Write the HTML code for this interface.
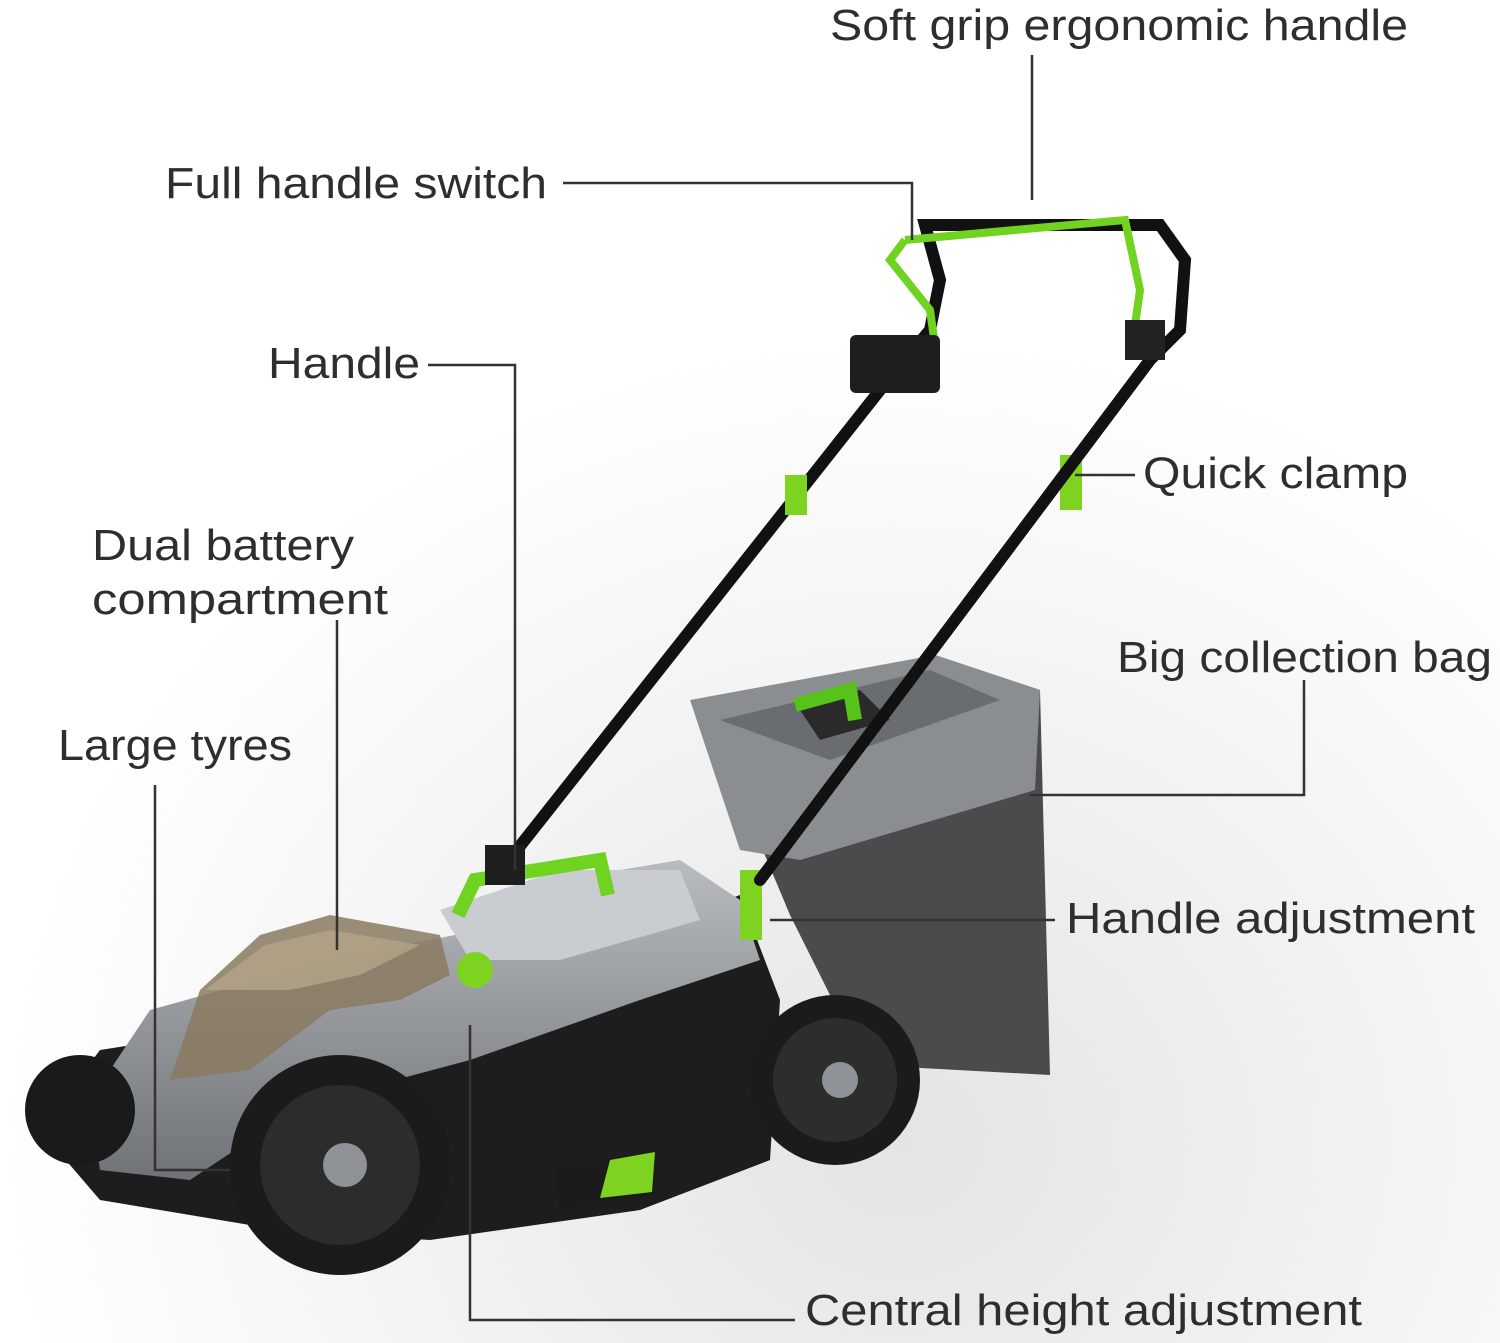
<!DOCTYPE html>
<html><head><meta charset="utf-8"><style>
html,body{margin:0;padding:0;background:#fff;}
body{width:1500px;height:1343px;overflow:hidden;position:relative;font-family:"Liberation Sans",sans-serif;}
svg{position:absolute;left:0;top:0;}
</style></head><body>
<svg width="1500" height="1343" viewBox="0 0 1500 1343" xmlns="http://www.w3.org/2000/svg">
<defs>
<radialGradient id="bg" cx="0.6" cy="0.85" r="0.6">
<stop offset="0" stop-color="#e4e4e4"/><stop offset="1" stop-color="#ffffff"/>
</radialGradient>
<linearGradient id="body" x1="0" y1="0" x2="0" y2="1">
<stop offset="0" stop-color="#b8bcc0"/><stop offset="1" stop-color="#6f7377"/>
</linearGradient>
</defs>
<rect width="1500" height="1343" fill="url(#bg)"/>
<!-- bag -->
<polygon points="700,700 935,655 1040,690 1050,1075 865,1065 790,915" fill="#4a4b4d"/>
<polygon points="690,700 935,655 1040,690 1035,790 800,860 740,850" fill="#8b8e91"/>
<polygon points="720,720 930,670 1000,700 830,760" fill="#6a6d70"/>
<polygon points="800,710 860,690 890,720 820,740" fill="#2a2a2a"/>
<path d="M795,705 L850,690 L855,720" stroke="#56c21a" stroke-width="14" fill="none"/>
<!-- deck black skirt -->
<polygon points="40,1130 100,1050 480,990 740,895 780,1000 770,1160 640,1210 430,1240 280,1230 100,1200" fill="#1d1d1e"/>
<!-- deck body -->
<polygon points="90,1100 150,1010 330,960 455,935 560,880 680,860 740,900 760,960 640,1000 470,1060 320,1100 250,1140 190,1180 100,1170" fill="url(#body)"/>
<polygon points="440,910 560,870 680,870 700,920 560,960 470,960" fill="#c9ccd0"/>
<!-- green marks -->
<polygon points="555,1170 655,1150 655,1195 560,1210" fill="#1b1b1b"/>
<polygon points="610,1160 655,1152 652,1192 600,1198" fill="#7ed321"/>
<path d="M458,915 L475,880 L600,860 L608,895" stroke="#6fd320" stroke-width="14" fill="none"/>
<circle cx="475" cy="970" r="18" fill="#7ed321"/>
<rect x="740" y="870" width="22" height="70" fill="#7ed321"/>
<rect x="1060" y="455" width="22" height="55" fill="#7ed321"/>
<!-- battery cover -->
<polygon points="170,1080 200,990 260,935 330,915 440,935 450,975 400,1000 330,1010 250,1070" fill="#8a7a62" opacity="0.85"/>
<polygon points="205,990 265,945 330,930 420,945 360,975 290,990" fill="#b4a588" opacity="0.8"/>
<!-- wheels -->
<circle cx="80" cy="1110" r="55" fill="#1a1a1a"/>
<circle cx="340" cy="1165" r="110" fill="#1b1b1b"/>
<circle cx="340" cy="1165" r="80" fill="#2c2c2c"/>
<circle cx="345" cy="1165" r="22" fill="#8f9296"/>
<circle cx="835" cy="1080" r="85" fill="#1b1b1b"/>
<circle cx="835" cy="1080" r="62" fill="#2d2d2d"/>
<circle cx="840" cy="1080" r="18" fill="#8f9296"/>
<!-- handles -->
<g stroke="#111" stroke-width="12" fill="none" stroke-linecap="round">
<path d="M505,865 L880,390 L930,330 L940,280 L925,225 L1160,225 L1185,260 L1180,330 L1150,360 L760,880"/>
</g>
<path d="M905,240 L890,260 L930,310 L935,345 M905,240 L1125,220 L1140,290 L1135,325" stroke="#6fd320" stroke-width="8" fill="none"/>
<rect x="850" y="335" width="90" height="58" rx="6" fill="#1e1e1e"/>
<rect x="1125" y="320" width="40" height="40" fill="#222"/>
<rect x="785" y="475" width="22" height="40" fill="#7ed321"/>
<rect x="485" y="845" width="40" height="40" fill="#1e1e1e"/>
<!-- connectors -->
<g stroke="#333" stroke-width="2.5" fill="none">
<path d="M1032,55 V200"/>
<path d="M563,183 H912 V240"/>
<path d="M428,365 H515 V870"/>
<path d="M1075,475 H1135"/>
<path d="M337,620 V950"/>
<path d="M1304,680 V795 H1030"/>
<path d="M155,785 V1170 H230"/>
<path d="M770,920 H1055"/>
<path d="M470,1025 V1320 H795"/>
</g>
<!-- labels -->
<g font-family="Liberation Sans, sans-serif" font-size="44" fill="#2e2e2e">
<text x="830" y="40" textLength="578" lengthAdjust="spacingAndGlyphs">Soft grip ergonomic handle</text>
<text x="165" y="198" textLength="382" lengthAdjust="spacingAndGlyphs">Full handle switch</text>
<text x="268" y="378" textLength="152" lengthAdjust="spacingAndGlyphs">Handle</text>
<text x="1143" y="488" textLength="265" lengthAdjust="spacingAndGlyphs">Quick clamp</text>
<text x="92" y="560" textLength="262" lengthAdjust="spacingAndGlyphs">Dual battery</text>
<text x="92" y="614" textLength="296" lengthAdjust="spacingAndGlyphs">compartment</text>
<text x="1117" y="672" textLength="375" lengthAdjust="spacingAndGlyphs">Big collection bag</text>
<text x="58" y="760" textLength="234" lengthAdjust="spacingAndGlyphs">Large tyres</text>
<text x="1066" y="933" textLength="409" lengthAdjust="spacingAndGlyphs">Handle adjustment</text>
<text x="805" y="1325" textLength="557" lengthAdjust="spacingAndGlyphs">Central height adjustment</text>
</g>
</svg>
</body></html>
